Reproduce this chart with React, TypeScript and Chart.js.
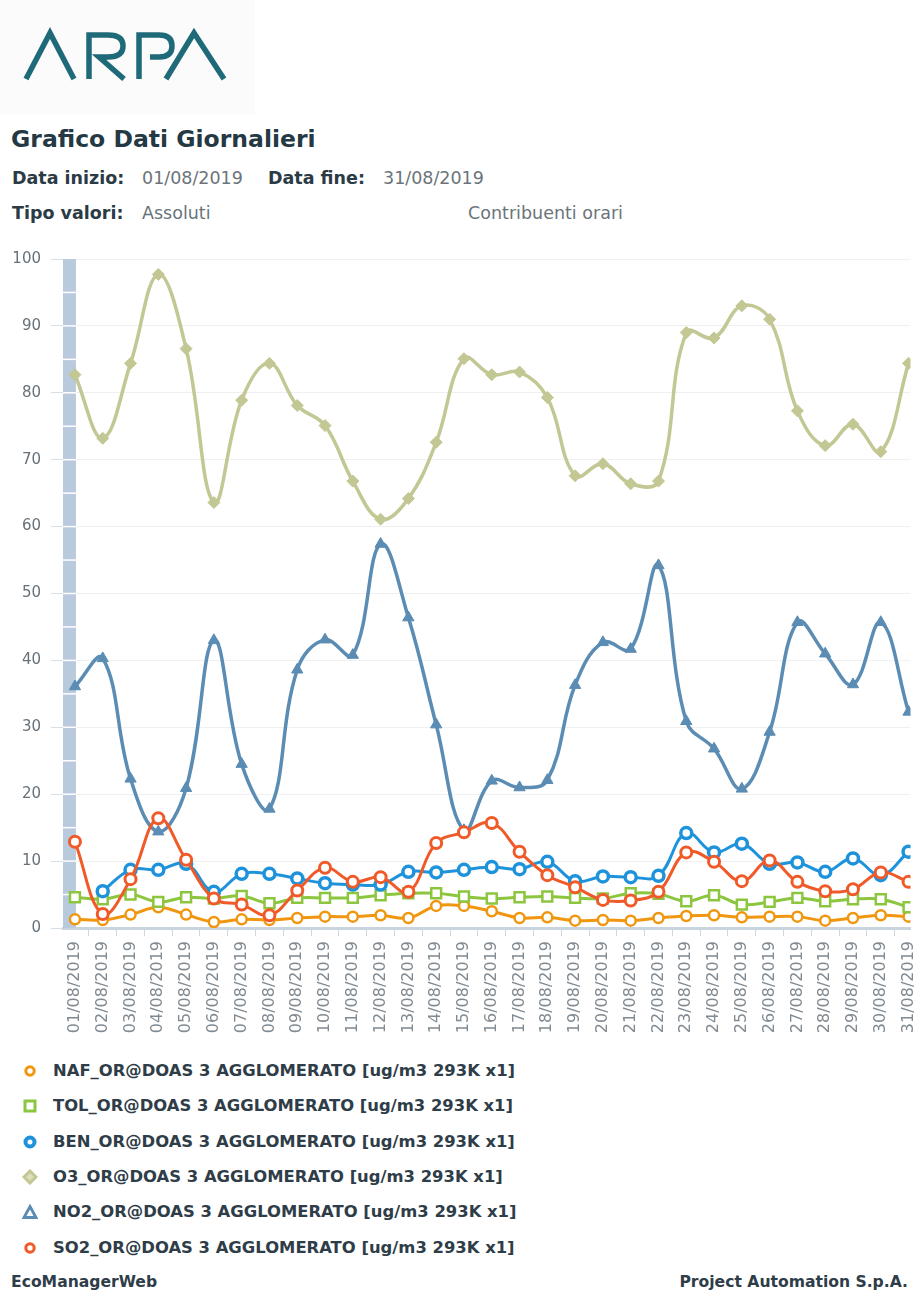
import React, { useEffect, useRef } from "react";
import { Chart, registerables } from "chart.js";
Chart.register(...registerables);

const dates = [
  "01/08/2019", "02/08/2019", "03/08/2019", "04/08/2019", "05/08/2019", "06/08/2019", "07/08/2019",
  "08/08/2019", "09/08/2019", "10/08/2019", "11/08/2019", "12/08/2019", "13/08/2019", "14/08/2019",
  "15/08/2019", "16/08/2019", "17/08/2019", "18/08/2019", "19/08/2019", "20/08/2019", "21/08/2019",
  "22/08/2019", "23/08/2019", "24/08/2019", "25/08/2019", "26/08/2019", "27/08/2019", "28/08/2019",
  "29/08/2019", "30/08/2019", "31/08/2019",
];

const naf = [1.3, 1.2, 2.0, 3.1, 2.0, 0.9, 1.3, 1.2, 1.5, 1.7, 1.7, 1.9, 1.5, 3.3, 3.3, 2.5, 1.5, 1.6, 1.1, 1.2, 1.1, 1.5, 1.8, 1.9, 1.6, 1.7, 1.7, 1.1, 1.5, 1.9, 1.7];
const tol = [4.6, 4.3, 5.0, 3.9, 4.6, 4.4, 4.8, 3.7, 4.5, 4.5, 4.5, 4.9, 5.2, 5.2, 4.7, 4.4, 4.6, 4.7, 4.5, 4.4, 5.2, 5.1, 4.0, 4.9, 3.5, 3.9, 4.5, 4.0, 4.3, 4.3, 3.1];
const ben = [null, 5.5, 8.7, 8.7, 9.6, 5.4, 8.1, 8.1, 7.4, 6.7, 6.5, 6.5, 8.4, 8.3, 8.7, 9.1, 8.8, 9.9, 7.0, 7.7, 7.6, 7.8, 14.2, 11.3, 12.6, 9.6, 9.8, 8.4, 10.4, 7.9, 11.4];
const o3 = [82.7, 73.2, 84.4, 97.7, 86.6, 63.6, 78.9, 84.4, 78.1, 75.1, 66.8, 61.1, 64.2, 72.6, 85.1, 82.7, 83.1, 79.3, 67.6, 69.4, 66.4, 66.8, 89.0, 88.2, 93.0, 91.0, 77.3, 72.1, 75.3, 71.2, 84.4];
const no2 = [36.1, 40.3, 22.3, 14.4, 20.9, 43.0, 24.5, 17.8, 38.6, 43.1, 40.8, 57.4, 46.4, 30.4, 14.6, 22.0, 21.0, 22.1, 36.3, 42.7, 41.7, 54.2, 30.9, 26.8, 20.8, 29.3, 45.7, 41.0, 36.4, 45.7, 32.3];
const so2 = [12.9, 2.1, 7.3, 16.4, 10.2, 4.4, 3.5, 1.9, 5.6, 9.0, 6.9, 7.6, 5.4, 12.7, 14.3, 15.7, 11.4, 7.9, 6.1, 4.2, 4.1, 5.4, 11.3, 9.9, 7.0, 10.1, 6.9, 5.5, 5.8, 8.3, 6.9];

const seriesNames = [
  "NAF_OR@DOAS 3 AGGLOMERATO [ug/m3 293K x1]",
  "TOL_OR@DOAS 3 AGGLOMERATO [ug/m3 293K x1]",
  "BEN_OR@DOAS 3 AGGLOMERATO [ug/m3 293K x1]",
  "O3_OR@DOAS 3 AGGLOMERATO [ug/m3 293K x1]",
  "NO2_OR@DOAS 3 AGGLOMERATO [ug/m3 293K x1]",
  "SO2_OR@DOAS 3 AGGLOMERATO [ug/m3 293K x1]",
];

const seriesValues = [naf, tol, ben, o3, no2, so2];

const styles = [
  { color: "#f0960f", pointStyle: "circle", radius: 5, pbw: 2.5, fill: "#ffffff", lw: 3 },
  { color: "#8cc63e", pointStyle: "rect", radius: 7, pbw: 2.5, fill: "#ffffff", lw: 3 },
  { color: "#1e93db", pointStyle: "circle", radius: 5.5, pbw: 3.5, fill: "#ffffff", lw: 3 },
  { color: "#c3c793", pointStyle: "rectRot", radius: 6, pbw: 1, fill: "#c3c793", lw: 3.5 },
  { color: "#5b8cb3", pointStyle: "triangle", radius: 6.5, pbw: 1, fill: "#5b8cb3", lw: 3.5 },
  { color: "#f05a28", pointStyle: "circle", radius: 5.5, pbw: 3, fill: "#ffffff", lw: 3 },
];

const bandPlugin = {
  id: "leftBand",
  beforeDatasetsDraw(chart: any) {
    const { ctx, chartArea, scales } = chart;
    const x = scales.x;
    const y = scales.y;
    const x0 = chartArea.left;
    const x1 = x.getPixelForValue(0) + 1;
    ctx.save();
    ctx.fillStyle = "#b9cadc";
    ctx.fillRect(x0, chartArea.top, x1 - x0, chartArea.bottom - chartArea.top);
    ctx.strokeStyle = "#ffffff";
    ctx.lineWidth = 1.5;
    for (let v = 5; v < 100; v += 5) {
      const py = y.getPixelForValue(v);
      ctx.beginPath();
      ctx.moveTo(x0, py);
      ctx.lineTo(x1, py);
      ctx.stroke();
    }
    ctx.restore();
  },
};

function LegendMarker({ idx }: { idx: number }) {
  const s = styles[idx];
  let shape: any = null;
  if (s.pointStyle === "circle") {
    shape = <circle cx={8} cy={8} r={idx === 2 ? 4.5 : 4.2} fill="#fff" stroke={s.color} strokeWidth={idx === 2 ? 4 : 3} />;
  } else if (s.pointStyle === "rect") {
    shape = <rect x={3} y={3} width={10} height={10} fill="#fff" stroke={s.color} strokeWidth={3} />;
  } else if (s.pointStyle === "rectRot") {
    shape = <polygon points="8,2 14,8 8,14 2,8" fill="#dcdeb9" stroke={s.color} strokeWidth={3} />;
  } else {
    shape = <polygon points="8,2.5 14,13.5 2,13.5" fill="#fff" stroke={s.color} strokeWidth={2.8} />;
  }
  return (
    <svg width={16} height={16} style={{ position: "absolute", left: 22, top: 2 }}>
      {shape}
    </svg>
  );
}

export default function App() {
  const canvasRef = useRef<HTMLCanvasElement | null>(null);

  useEffect(() => {
    if (!canvasRef.current) return;
    const datasets = seriesValues.map((vals, i) => ({
      label: seriesNames[i],
      data: vals.map((v, k) => ({ x: k, y: v })),
      borderColor: styles[i].color,
      backgroundColor: styles[i].color,
      borderWidth: styles[i].lw,
      tension: 0.4,
      fill: false,
      pointStyle: styles[i].pointStyle as any,
      pointRadius: styles[i].radius,
      pointBorderWidth: styles[i].pbw,
      pointBackgroundColor: styles[i].fill,
      pointBorderColor: styles[i].color,
      order: 5 - i,
    }));

    const chart = new Chart(canvasRef.current, {
      type: "line",
      data: { datasets },
      options: {
        animation: false,
        responsive: false,
        maintainAspectRatio: false,
        layout: { padding: { top: 18, right: 8, left: 0, bottom: 0 } },
        plugins: {
          legend: { display: false },
          tooltip: { enabled: false },
        },
        scales: {
          x: {
            type: "linear",
            min: -0.43,
            max: 30.07,
            afterBuildTicks: (scale: any) => {
              scale.ticks = dates.map((_, i) => ({ value: i }));
            },
            afterFit: (scale: any) => {
              scale.height = 122;
              scale.paddingLeft = 0;
              scale.paddingRight = 0;
            },
            ticks: {
              autoSkip: false,
              minRotation: 90,
              maxRotation: 90,
              padding: 5,
              color: "#808a92",
              font: { family: "DejaVu Sans", size: 16 },
              callback: (v: any) => dates[Math.round(Number(v))] ?? "",
            },
            grid: {
              drawOnChartArea: false,
              offset: true,
              tickLength: 8,
              color: "#d0d7de",
              lineWidth: 1,
            },
            border: { display: true, color: "#c9d4df", width: 3 },
          },
          y: {
            min: 0,
            max: 100,
            afterFit: (scale: any) => {
              scale.width = 63;
            },
            ticks: {
              stepSize: 10,
              padding: 10,
              color: "#66717a",
              font: { family: "DejaVu Sans", size: 15 },
            },
            grid: {
              color: "#f0f0f0",
              tickColor: "#d9dee4",
              tickLength: 12,
              lineWidth: 1,
            },
            border: { display: false },
          },
        },
      },
      plugins: [bandPlugin],
    });
    return () => chart.destroy();
  }, []);

  const font = "'DejaVu Sans', Verdana, sans-serif";
  const labelStyle = (left: number, top: number, size: number, bold: boolean, color: string): any => ({
    position: "absolute",
    left,
    top,
    fontSize: size,
    fontWeight: bold ? "bold" : "normal",
    color,
    lineHeight: `${Math.round(size + 4)}px`,
    whiteSpace: "nowrap",
  });

  return (
    <div
      style={{
        position: "absolute",
        left: 0,
        top: 0,
        width: 920,
        height: 1294,
        overflow: "hidden",
        background: "#ffffff",
        fontFamily: font,
      }}
    >
      <div style={{ position: "absolute", left: 0, top: 0, width: 255, height: 115, background: "#fbfbfb" }}>
        <svg width={255} height={115}>
          <g fill="none" stroke="#1f6a78" strokeWidth={5.5} strokeLinejoin="miter">
            <path d="M26 79 L50 33 L74 79" />
            <path d="M89 79 L89 35 L108 35 Q123 35 123 46 Q123 57 108 57 L99 57 L124 79" />
            <path d="M139 79 L139 35 L159 35 Q172 35 172 46 Q172 57 159 57 L150 57" />
            <path d="M166 79 L194 33 L224 79" />
          </g>
        </svg>
      </div>

      <div style={labelStyle(11, 125, 23.5, true, "#253945")}>Grafico Dati Giornalieri</div>

      <div style={labelStyle(12, 167, 17.5, true, "#2b3b45")}>Data inizio:</div>
      <div style={labelStyle(142, 167, 17.5, false, "#6b747a")}>01/08/2019</div>
      <div style={labelStyle(268, 167, 17.5, true, "#2b3b45")}>Data fine:</div>
      <div style={labelStyle(383, 167, 17.5, false, "#6b747a")}>31/08/2019</div>

      <div style={labelStyle(12, 202, 17.5, true, "#2b3b45")}>Tipo valori:</div>
      <div style={labelStyle(142, 202, 17.5, false, "#6b747a")}>Assoluti</div>
      <div style={labelStyle(468, 202, 17.5, false, "#6b747a")}>Contribuenti orari</div>

      <div style={{ position: "absolute", left: 0, top: 240, width: 920, height: 810 }}>
        <canvas ref={canvasRef} width={920} height={810} style={{ display: "block", width: 920, height: 810 }} />
      </div>

      {seriesNames.map((name, i) => (
        <div key={name} style={{ position: "absolute", left: 0, top: 1061 + i * 35.3, height: 20, width: 700 }}>
          <LegendMarker idx={i} />
          <div style={{ position: "absolute", left: 53, top: 0, fontSize: 16.4, fontWeight: "bold", color: "#2e3d48", lineHeight: "20px", whiteSpace: "nowrap" }}>
            {name}
          </div>
        </div>
      ))}

      <div style={labelStyle(11, 1272, 15.6, true, "#2e3d48")}>EcoManagerWeb</div>
      <div style={{ ...labelStyle(0, 1272, 15.6, true, "#2e3d48"), left: "auto", right: 12 }}>Project Automation S.p.A.</div>
    </div>
  );
}
